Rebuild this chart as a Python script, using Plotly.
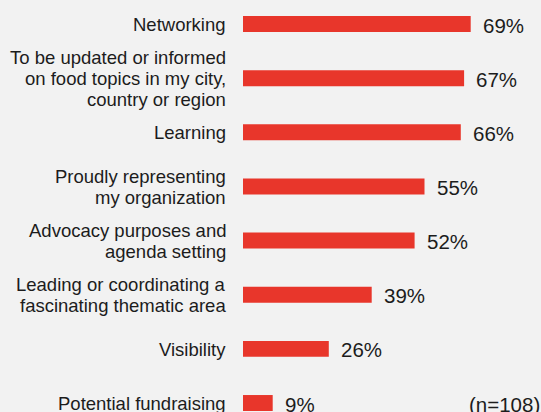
import plotly.graph_objects as go

categories = [
    "Networking",
    "To be updated or informed<br>on food topics in my city,<br>country or region",
    "Learning",
    "Proudly representing<br>my organization",
    "Advocacy purposes and<br>agenda setting",
    "Leading or coordinating a<br>fascinating thematic area",
    "Visibility",
    "Potential fundraising",
]
values = [69, 67, 66, 55, 52, 39, 26, 9]
sample_note = "(n=108)"

BG = "#f2f2f2"
RED = "#e8362b"
TXT = "#1c1c1c"
FONT = "Liberation Sans, Arial, Helvetica, sans-serif"

W, H = 541, 412
L = 243
px_per_pct = 3.3
plot_w = W - L
LINE_H = 21

fig = go.Figure()
fig.add_trace(go.Bar(
    y=categories,
    x=values,
    orientation="h",
    marker=dict(color=RED, line=dict(width=0)),
    width=0.295,
    hoverinfo="skip",
))

# value labels
for cat, v in zip(categories, values):
    fig.add_annotation(
        text=f"{v}%",
        xref="x", x=v, xanchor="left", xshift=10,
        yref="y", y=cat, yanchor="middle", yshift=-1,
        showarrow=False,
        font=dict(family=FONT, size=20.5, color=TXT),
    )

# category labels, one annotation per line for tighter line spacing
for cat in categories:
    lines = cat.split("<br>")
    n = len(lines)
    for j, line in enumerate(lines):
        fig.add_annotation(
            text=line,
            xref="paper", x=0, xanchor="right", xshift=-15,
            yref="y", y=cat, yanchor="middle",
            yshift=-(j - (n - 1) / 2) * LINE_H - 0.5,
            showarrow=False,
            font=dict(family=FONT, size=18.5, color=TXT),
        )

fig.add_annotation(
    text=sample_note,
    xref="paper", x=(466.5 - L) / plot_w, xanchor="left",
    yref="y", y=categories[-1], yanchor="middle", yshift=-1,
    showarrow=False,
    font=dict(family=FONT, size=20.5, color=TXT),
)

fig.update_layout(
    width=W, height=H,
    margin=dict(l=L, r=0, t=0, b=0, pad=0, autoexpand=False),
    paper_bgcolor=BG, plot_bgcolor=BG,
    showlegend=False,
)
fig.update_xaxes(
    range=[0, plot_w / px_per_pct],
    visible=False, showgrid=False, zeroline=False, automargin=False,
)
fig.update_yaxes(
    range=[7.166, -0.4433],
    showgrid=False, zeroline=False, showline=False, ticks="",
    showticklabels=False, automargin=False,
)

fig.write_html(
    "out.html",
    config={"displayModeBar": False},
    post_script="document.body.style.margin='0px';document.body.style.background='#f2f2f2';",
)
